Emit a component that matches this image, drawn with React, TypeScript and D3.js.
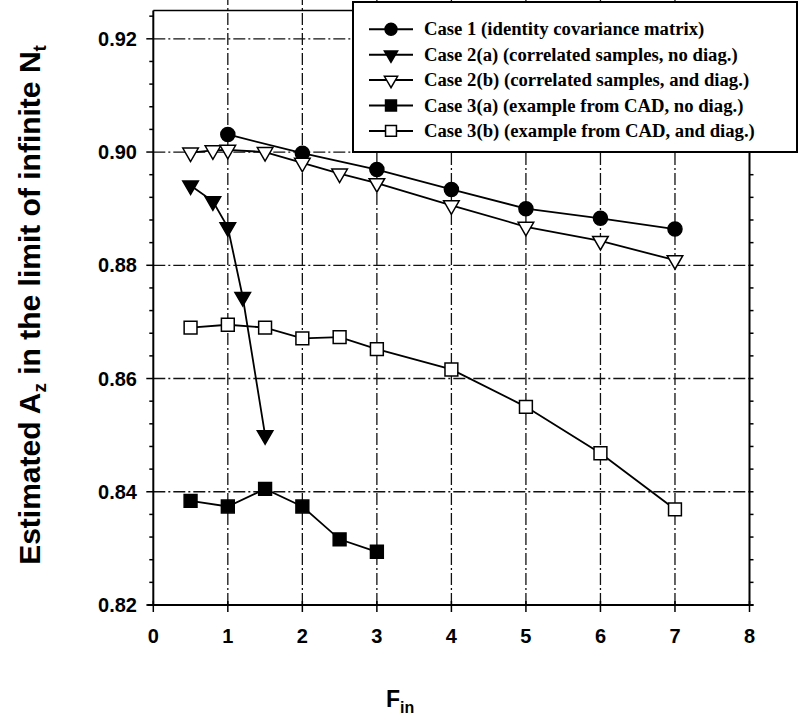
import React from "react";
import * as d3 from "d3";

const case1X = [1, 2, 3, 4, 5, 6, 7];
const case1Y = [0.9031, 0.8998, 0.8969, 0.8934, 0.89, 0.8883, 0.8864];
const case2aX = [0.5, 0.8, 1.0, 1.2, 1.5];
const case2aY = [0.8941, 0.8913, 0.8867, 0.8744, 0.85];
const case2bX = [0.5, 0.8, 1, 1.5, 2, 2.5, 3, 4, 5, 6, 7];
const case2bY = [0.8999, 0.9003, 0.9004, 0.9, 0.8981, 0.8962, 0.8945, 0.8906, 0.8868, 0.8843, 0.8809];
const case3aX = [0.5, 1, 1.5, 2, 2.5, 3];
const case3aY = [0.8384, 0.8374, 0.8405, 0.8374, 0.8316, 0.8294];
const case3bX = [0.5, 1, 1.5, 2, 2.5, 3, 4, 5, 6, 7];
const case3bY = [0.869, 0.8695, 0.869, 0.8671, 0.8673, 0.8652, 0.8616, 0.855, 0.8468, 0.8369];

const xTicks = [0, 1, 2, 3, 4, 5, 6, 7, 8];
const yTicks = [0.82, 0.84, 0.86, 0.88, 0.9, 0.92];
const yTickLabels = ["0.82", "0.84", "0.86", "0.88", "0.90", "0.92"];
const legendLabels = [
  "Case 1 (identity covariance matrix)",
  "Case 2(a) (correlated samples, no diag.)",
  "Case 2(b) (correlated samples, and diag.)",
  "Case 3(a) (example from CAD, no diag.)",
  "Case 3(b) (example from CAD, and diag.)",
];

type MarkerKind = "circle" | "triDown" | "triDownOpen" | "square" | "squareOpen";

const series: { xs: number[]; ys: number[]; kind: MarkerKind }[] = [
  { xs: case1X, ys: case1Y, kind: "circle" },
  { xs: case2aX, ys: case2aY, kind: "triDown" },
  { xs: case2bX, ys: case2bY, kind: "triDownOpen" },
  { xs: case3aX, ys: case3aY, kind: "square" },
  { xs: case3bX, ys: case3bY, kind: "squareOpen" },
];

const W = 800;
const H = 715;
const x = d3.scaleLinear().domain([0, 8]).range([153.3, 749.5]);
const y = d3.scaleLinear().domain([0.82, 0.925]).range([605, 10.5]);

function Marker({ kind, cx, cy, scale = 1 }: { kind: MarkerKind; cx: number; cy: number; scale?: number }) {
  let path = "";
  let rot = 0;
  if (kind === "circle") path = d3.symbol().type(d3.symbolCircle).size(155 * scale * scale)()!;
  else if (kind === "triDown" || kind === "triDownOpen") {
    path = d3.symbol().type(d3.symbolTriangle).size(105 * scale * scale)()!;
    rot = 180;
  } else path = d3.symbol().type(d3.symbolSquare).size(165 * scale * scale)()!;
  const open = kind === "triDownOpen" || kind === "squareOpen";
  return (
    <path
      d={path}
      transform={`translate(${cx},${cy}) rotate(${rot})`}
      fill={open ? "#fff" : "#000"}
      stroke="#000"
      strokeWidth={1.5}
    />
  );
}

export default function App() {
  const line = d3
    .line<[number, number]>()
    .x((d) => x(d[0]))
    .y((d) => y(d[1]));
  const minorY = d3.range(0.82, 0.9251, 0.004);
  const x0 = x(0);
  const x8 = x(8);
  const yB = y(0.82);
  const yT = y(0.925);
  const grid = { stroke: "#111", strokeWidth: 1.3, strokeDasharray: "12,3,2,3" };
  const lgX = 353;
  const lgY = 2;
  const lgW = 444;
  const lgH = 150;
  return (
    <svg width={W} height={H} style={{ position: "absolute", left: 0, top: 0, background: "#fff" }}>
      <rect x={0} y={0} width={W} height={H} fill="#fff" />
      {/* grid */}
      {[1, 2, 3, 4, 5, 6, 7].map((v) => (
        <line key={"gx" + v} x1={x(v)} x2={x(v)} y1={yB} y2={0} {...grid} />
      ))}
      {[0.84, 0.86, 0.88, 0.9, 0.92].map((v) => (
        <line key={"gy" + v} x1={x0} x2={x8} y1={y(v)} y2={y(v)} {...grid} />
      ))}
      {/* frame */}
      <line x1={x0} x2={x0} y1={yB} y2={yT} stroke="#000" strokeWidth={2} />
      <line x1={x8} x2={x8} y1={yB} y2={yT} stroke="#000" strokeWidth={2} />
      <line x1={x0} x2={x8} y1={yT} y2={yT} stroke="#000" strokeWidth={1.5} />
      <line x1={x0 - 6} x2={x8 + 4} y1={yB} y2={yB} stroke="#000" strokeWidth={2} />
      {minorY.map((v, i) => {
        const major = i % 5 === 0;
        return (
          <g key={"ty" + i}>
            <line x1={x0 - (major ? 7 : 4)} x2={x0} y1={y(v)} y2={y(v)} stroke="#000" strokeWidth={1.5} />
            <line x1={x8} x2={x8 + 4} y1={y(v)} y2={y(v)} stroke="#000" strokeWidth={1.5} />
          </g>
        );
      })}
      {xTicks.map((v) => (
        <line key={"tx" + v} x1={x(v)} x2={x(v)} y1={yB - 4} y2={yB + 7} stroke="#000" strokeWidth={1.5} />
      ))}
      {/* tick labels */}
      {yTicks.map((v, i) => (
        <text
          key={"ly" + i}
          x={137}
          y={y(v)}
          dy="0.36em"
          textAnchor="end"
          fontFamily="Liberation Sans, Arial, sans-serif"
          fontWeight="bold"
          fontSize={20}
        >
          {yTickLabels[i]}
        </text>
      ))}
      {xTicks.map((v) => (
        <text
          key={"lx" + v}
          x={x(v)}
          y={643}
          textAnchor="middle"
          fontFamily="Liberation Sans, Arial, sans-serif"
          fontWeight="bold"
          fontSize={20}
        >
          {v}
        </text>
      ))}
      {/* axis titles */}
      <text x={386} y={707} fontFamily="Liberation Sans, Arial, sans-serif" fontWeight="bold" fontSize={23}>
        F<tspan fontSize={16} dy={6}>in</tspan>
      </text>
      <text
        transform={`translate(40,305) rotate(-90)`}
        textAnchor="middle"
        fontFamily="Liberation Sans, Arial, sans-serif"
        fontWeight="bold"
        fontSize={30}
      >
        Estimated A<tspan fontSize={19} dy={6}>z</tspan>
        <tspan dy={-6}> in the limit of infinite N</tspan>
        <tspan fontSize={19} dy={6}>t</tspan>
      </text>
      {/* data */}
      {series.map((s, si) => (
        <path
          key={"l" + si}
          d={line(s.xs.map((xv, i) => [xv, s.ys[i]] as [number, number]))!}
          fill="none"
          stroke="#000"
          strokeWidth={1.8}
        />
      ))}
      {series.map((s, si) =>
        s.xs.map((xv, i) => <Marker key={`m${si}-${i}`} kind={s.kind} cx={x(xv)} cy={y(s.ys[i])} />)
      )}
      {/* legend */}
      <rect x={lgX} y={lgY} width={lgW} height={lgH} fill="#fff" stroke="#000" strokeWidth={2} />
      {series.map((s, i) => {
        const ly = 29.3 + i * 25.4;
        return (
          <g key={"lg" + i}>
            <line x1={369} x2={413} y1={ly} y2={ly} stroke="#000" strokeWidth={2} />
            <Marker kind={s.kind} cx={391} cy={ly} scale={0.85} />
            <text
              x={424}
              y={ly}
              dy="0.33em"
              fontFamily="Liberation Serif, Times New Roman, serif"
              fontWeight="bold"
              fontSize={18.7}
            >
              {legendLabels[i]}
            </text>
          </g>
        );
      })}
    </svg>
  );
}
